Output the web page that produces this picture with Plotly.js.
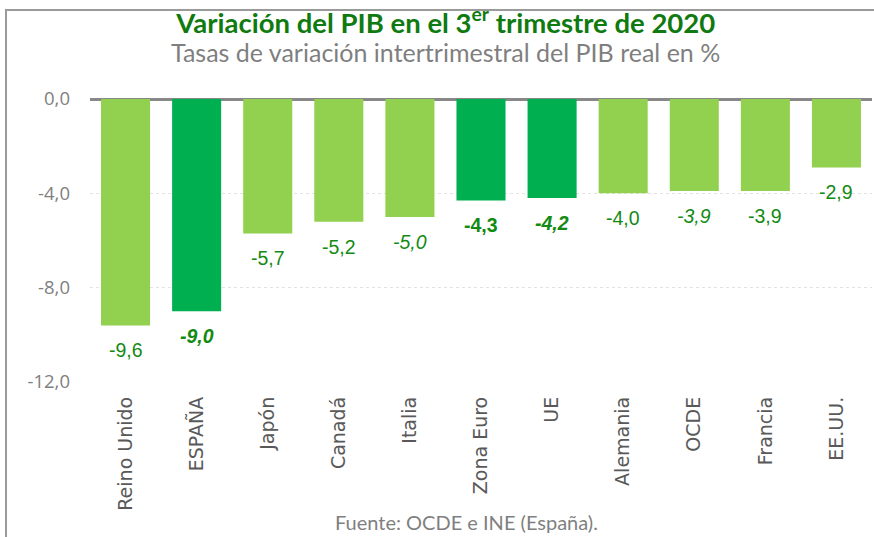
<!DOCTYPE html>
<html>
<head>
<meta charset="utf-8">
<script src="https://cdn.plot.ly/plotly-3.0.1.min.js"></script>
<style>
  html, body { margin: 0; padding: 0; background: #fff; overflow: hidden; }
  #chart { width: 874px; height: 537px; position: absolute; left: 0; top: 0; }
  #frame { position: absolute; left: 5px; top: 9px; width: 900px; height: 600px;
           border-left: 2px solid #9a9a9a; border-top: 2px solid #9a9a9a; pointer-events: none; }
</style>
</head>
<body>
<div id="chart"></div>
<div id="frame"></div>
<script>
const categories = ["Reino Unido", "ESPAÑA", "Japón", "Canadá", "Italia", "Zona Euro", "UE", "Alemania", "OCDE", "Francia", "EE.UU."];
const values = [-9.6, -9.0, -5.7, -5.2, -5.0, -4.3, -4.2, -4.0, -3.9, -3.9, -2.9];
const highlighted = [false, true, false, false, false, true, true, false, false, false, false];
const labelBold = [false, true, false, false, false, true, true, false, false, false, false];
const labelItalic = [false, true, false, false, true, false, true, false, true, false, false];
const yTicks = [0, -4, -8, -12];

const LIGHT = "#92D050", DARK = "#00B050", LABEL = "#138a13";

function fmt(v) { return v.toFixed(1).replace(".", ","); }

const trace = {
  type: "bar",
  x: categories,
  y: values,
  marker: { color: highlighted.map(h => h ? DARK : LIGHT) },
  width: 0.69,
  hoverinfo: "skip"
};

const annotations = values.map((v, i) => {
  let t = fmt(v);
  if (labelItalic[i]) t = "<i>" + t + "</i>";
  if (labelBold[i]) t = "<b>" + t + "</b>";
  return {
    x: categories[i], y: v, xref: "x", yref: "y",
    text: t, showarrow: false, yanchor: "middle", yshift: -25,
    font: { family: "Liberation Sans, Arial, sans-serif", size: 19.5, color: LABEL }
  };
});

annotations.push({
  xref: "paper", yref: "paper", x: 0.455, y: 1.166, xanchor: "center", yanchor: "middle",
  text: "Tasas de variación intertrimestral del PIB real en %", showarrow: false,
  font: { family: "Lato, sans-serif", size: 25, color: "#7f7f7f" }
});
annotations.push({
  xref: "paper", yref: "paper", x: 0.481, y: -0.495, xanchor: "center", yanchor: "middle",
  text: "Fuente: OCDE e INE (España).", showarrow: false,
  font: { family: "Lato, sans-serif", size: 20, color: "#7f7f7f" }
});

const layout = {
  width: 874, height: 537,
  margin: { l: 90, r: 2, t: 99, b: 155 },
  paper_bgcolor: "#ffffff", plot_bgcolor: "#ffffff",
  showlegend: false,
  separators: ",.",
  title: {
    text: "<b>Variación del PIB en el 3<sup>er</sup> trimestre de 2020</b>",
    xref: "paper", x: 0.455, xanchor: "center",
    yref: "container", y: 1 - 23 / 537, yanchor: "middle",
    font: { family: "Lato, sans-serif", size: 27.5, color: "#0f7a0f" }
  },
  xaxis: {
    type: "category",
    tickangle: -90,
    showgrid: false, zeroline: false, showline: false,
    ticks: "", ticklabelstandoff: 10,
    tickfont: { family: "DejaVu Sans, sans-serif", size: 19, color: "#595959" }
  },
  yaxis: {
    range: [-12, 0],
    tickvals: yTicks,
    ticktext: yTicks.map(fmt),
    showgrid: true, gridcolor: "#e3e3e3", griddash: "dot", gridwidth: 1,
    zeroline: true, zerolinecolor: "#888888", zerolinewidth: 3,
    showline: false, ticks: "", ticklabelstandoff: 19,
    tickfont: { family: "Open Sans, sans-serif", size: 18.5, color: "#808080" }
  },
  annotations: annotations
};

Plotly.newPlot("chart", [trace], layout, { displayModeBar: false, staticPlot: true });
</script>
</body>
</html>
